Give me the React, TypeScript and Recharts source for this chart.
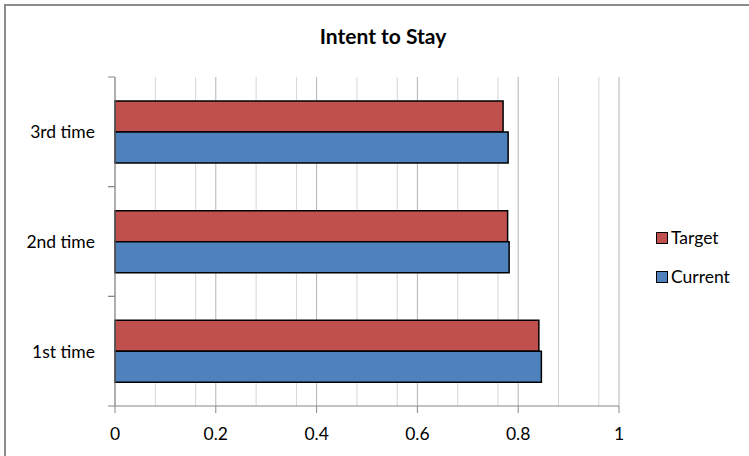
import { Bar, BarChart, CartesianGrid, XAxis, YAxis } from "recharts";

const categories = ["3rd time", "2nd time", "1st time"];
const target = [0.77, 0.779, 0.841];
const current = [0.78, 0.782, 0.846];
const majorTicks = [0, 0.2, 0.4, 0.6, 0.8, 1];
const minorTicks = [0.04, 0.08, 0.12, 0.16, 0.24, 0.28, 0.32, 0.36, 0.44, 0.48, 0.52, 0.56, 0.64, 0.68, 0.72, 0.76, 0.84, 0.88, 0.92, 0.96];
const series = [
  { key: "Target", color: "#C0504D" },
  { key: "Current", color: "#4F81BD" },
];

const data = categories.map((name, i) => ({ name, Target: target[i], Current: current[i] }));

const FONT = "Lato, 'Open Sans', sans-serif";
const AXIS = "#868686";

// category label plus Excel-style tick marks on the band edges
function CategoryTick(props: any) {
  const { x, y, payload } = props;
  const half = payload.offset ?? 0;
  return (
    <g>
      <text x={x - 20} y={y} textAnchor="end" dominantBaseline="central" fontSize={17.5} fontFamily={FONT} fill="#000">
        {payload.value}
      </text>
      <line x1={x - 7} x2={x} y1={y - half} y2={y - half} stroke={AXIS} />
      <line x1={x - 7} x2={x} y1={y + half} y2={y + half} stroke={AXIS} />
    </g>
  );
}

export default function App() {
  return (
    <div style={{ position: "absolute", left: 0, top: 0, width: 749, height: 456, background: "#fff", overflow: "hidden" }}>
      <div style={{ position: "absolute", left: 4, top: 4, width: 800, height: 500, borderLeft: "2px solid #8c8c8c", borderTop: "2px solid #8c8c8c" }} />
      <div style={{ position: "absolute", left: 0, width: 766, top: 23, textAlign: "center", fontFamily: FONT, fontWeight: 700, fontSize: 21 }}>
        Intent to Stay
      </div>
      <BarChart
        width={749}
        height={456}
        data={data}
        layout="vertical"
        barCategoryGap={24}
        barGap={0}
        margin={{ top: 77, right: 130, bottom: 20, left: 8 }}
        style={{ position: "absolute", left: 0, top: 0 }}
      >
        <CartesianGrid horizontal={false} verticalValues={minorTicks} stroke="#d6d6d6" />
        <CartesianGrid horizontal={false} verticalValues={majorTicks} stroke="#b4b4b4" />
        <XAxis
          type="number"
          domain={[0, 1]}
          ticks={majorTicks}
          height={30}
          tickSize={7}
          tickMargin={15}
          stroke={AXIS}
          tick={{ fill: "#000", fontSize: 17.5, fontFamily: FONT }}
        />
        <YAxis
          type="category"
          dataKey="name"
          width={107}
          tickSize={0}
          tickMargin={0}
          stroke={AXIS}
          tick={<CategoryTick />}
        />
        {series.map((s) => (
          <Bar key={s.key} dataKey={s.key} fill={s.color} stroke="#000" strokeWidth={1.5} isAnimationActive={false} />
        ))}
      </BarChart>
      <div style={{ position: "absolute", left: 656, top: 218, fontFamily: FONT, fontSize: 17.5, color: "#000" }}>
        {series.map((s) => (
          <div key={s.key} style={{ display: "flex", alignItems: "center", height: 39 }}>
            <span style={{ width: 10, height: 10, background: s.color, border: "1px solid #000", marginRight: 3 }} />
            {s.key}
          </div>
        ))}
      </div>
    </div>
  );
}
